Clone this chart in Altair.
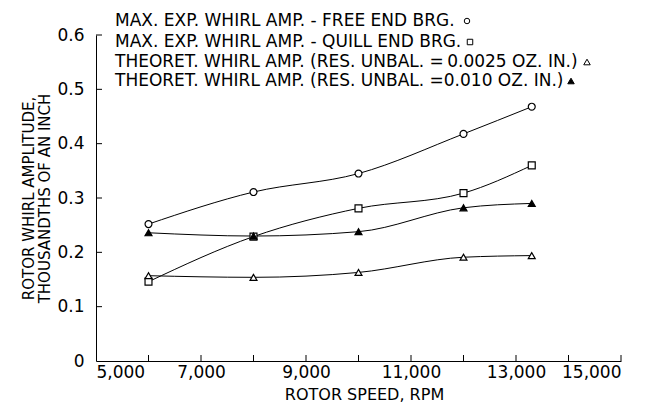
import altair as alt
import pandas as pd

# ---- data ----
rpm = [6000, 8000, 10000, 12000, 13300]
free_end = [0.252, 0.311, 0.345, 0.418, 0.468]
quill_end = [0.146, 0.229, 0.281, 0.309, 0.360]
theo_0025 = [0.157, 0.154, 0.163, 0.191, 0.194]
theo_010 = [0.236, 0.230, 0.238, 0.282, 0.290]

series_keys = ["free", "quill", "theo1", "theo2"]
series_values = [free_end, quill_end, theo_0025, theo_010]
legend_labels = [
    "MAX. EXP. WHIRL AMP. - FREE END BRG.",
    "MAX. EXP. WHIRL AMP. - QUILL END BRG.",
    "THEORET. WHIRL AMP. (RES. UNBAL. =\u20090.0025 OZ. IN.)",
    "THEORET. WHIRL AMP. (RES. UNBAL. =0.010 OZ. IN.)",
]
shapes = ["circle", "square", "triangle-up", "triangle-up"]
fills = ["white", "white", "white", "black"]
marker_sizes = [48, 48, 62, 62]

x_label_values = [5000, 7000, 9000, 11000, 13000, 15000]
y_label_values = [0, 0.1, 0.2, 0.3, 0.4, 0.5, 0.6]
x_tick_values = [6000, 7000, 8000, 9000, 10000, 11000, 12000, 13000, 14000, 15000]
y_tick_values = [0.1, 0.2, 0.3, 0.4, 0.5, 0.6]

# ---- styling / layout ----
FONT = "DejaVu Sans"
W, H = 525, 326
legend_text_x = 19
legend_row_y = [-14, 7, 27, 46]
legend_marker_x = [371, 374, 491, 475]
legend_marker_sizes = [30, 30, 42, 42]

rows = []
for key, vals in zip(series_keys, series_values):
    for r, v in zip(rpm, vals):
        rows.append({"series": key, "rpm": r, "amp": v})
df = pd.DataFrame(rows)

x_axis = alt.Axis(
    values=x_label_values, format=",.0f", ticks=False, grid=False,
    domainColor="black", domainWidth=1,
    labelFont=FONT, labelFontSize=17, labelColor="black", labelPadding=3,
    title="ROTOR SPEED, RPM", titleFont=FONT, titleFontSize=16,
    titleFontWeight="normal", titleColor="black", titlePadding=6, titleX=268,
)
y_axis = alt.Axis(
    values=y_label_values,
    labelExpr="datum.value == 0 ? '0' : format(datum.value, '.1f')",
    ticks=False, grid=False, domainColor="black", domainWidth=1,
    labelFont=FONT, labelFontSize=17, labelColor="black", labelPadding=12,
    title=["ROTOR WHIRL AMPLITUDE,", "THOUSANDTHS OF AN INCH"],
    titleFont=FONT, titleFontSize=15, titleFontWeight="normal",
    titleColor="black", titlePadding=4, titleLineHeight=16,
)
x_enc = alt.X("rpm:Q", scale=alt.Scale(domain=[5000, 15000], nice=False, zero=False), axis=x_axis)
y_enc = alt.Y("amp:Q", scale=alt.Scale(domain=[0, 0.6], nice=False), axis=y_axis)

shape_enc = alt.Shape("series:N", scale=alt.Scale(domain=series_keys, range=shapes), legend=None)
fill_enc = alt.Fill("series:N", scale=alt.Scale(domain=series_keys, range=fills), legend=None)
size_enc = alt.Size("series:N", scale=alt.Scale(domain=series_keys, range=marker_sizes), legend=None)

base = alt.Chart(df)
lines = base.mark_line(color="black", strokeWidth=1, interpolate="monotone").encode(
    x=x_enc, y=y_enc, detail="series:N"
)
points = base.mark_point(filled=True, stroke="black", strokeWidth=1.2, opacity=1).encode(
    x=x_enc, y=y_enc, shape=shape_enc, fill=fill_enc, size=size_enc
)

xt = alt.Chart(pd.DataFrame({"rpm": x_tick_values})).mark_rule(color="black", strokeWidth=1).encode(
    x=x_enc, y=alt.value(H), y2=alt.value(H - 6)
)
yt = alt.Chart(pd.DataFrame({"amp": y_tick_values})).mark_rule(color="black", strokeWidth=1).encode(
    y=y_enc, x=alt.value(0), x2=alt.value(6)
)

layers = [lines, points, xt, yt]
for i, label in enumerate(legend_labels):
    layers.append(
        alt.Chart(pd.DataFrame({"t": [label]})).mark_text(
            align="left", baseline="middle", font=FONT, fontSize=17, color="black"
        ).encode(text="t:N", x=alt.value(legend_text_x), y=alt.value(legend_row_y[i]))
    )
    layers.append(
        alt.Chart(pd.DataFrame({"t": [label]})).mark_point(
            filled=True, stroke="black", strokeWidth=1, size=legend_marker_sizes[i], opacity=1,
            shape=shapes[i], fill=fills[i]
        ).encode(x=alt.value(legend_marker_x[i]), y=alt.value(legend_row_y[i]))
    )

chart = alt.layer(*layers).properties(
    width=W, height=H,
    autosize=alt.AutoSizeParams(type="none"),
    padding={"left": 88, "top": 27, "right": 25, "bottom": 43},
).configure_view(strokeOpacity=0)

chart.save("out.html", embed_options={"renderer": "svg", "actions": False})
